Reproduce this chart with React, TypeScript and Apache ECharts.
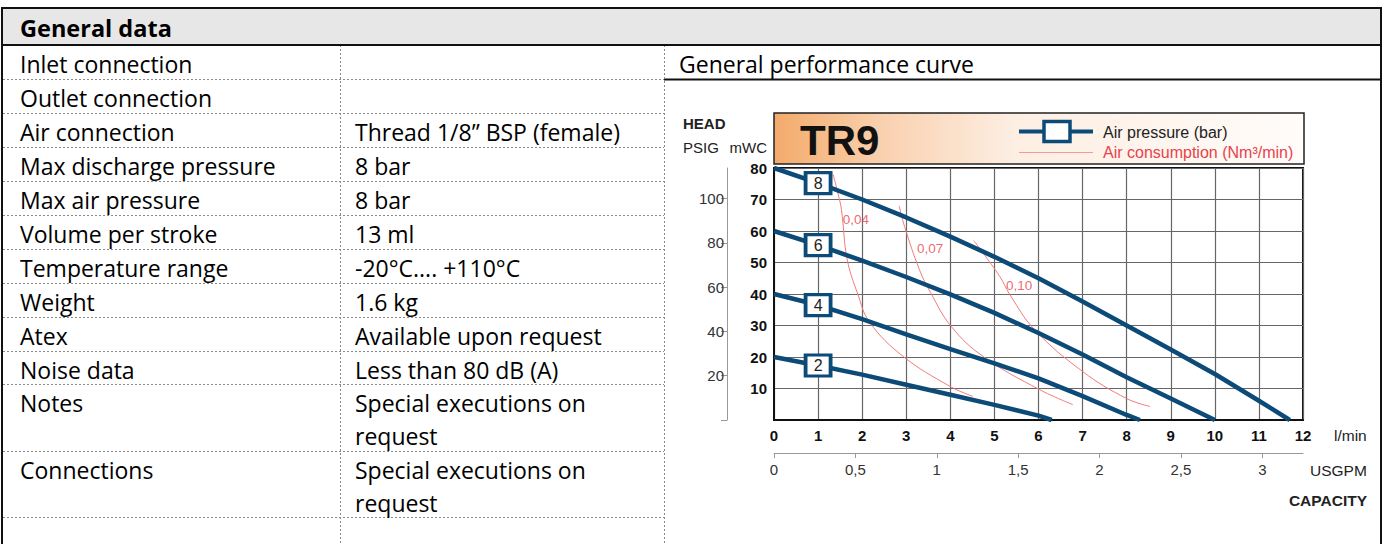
import { useEffect, useRef } from "react";
import * as echarts from "echarts";

// ---------- data ----------
const airPressureBars = ["8", "6", "4", "2"];
const curve8bar = [[0, 80], [1, 75.2], [2, 70], [3, 64.3], [4, 58.2], [5, 51.8], [6, 45], [7, 37.6], [8, 30], [9, 22.4], [10, 14.6], [11, 6.1], [11.7, 0]];
const curve6bar = [[0, 60], [1, 55.5], [2, 50.6], [3, 45.4], [4, 39.9], [5, 34], [6, 27.6], [7, 20.8], [8, 13.6], [9, 6.8], [10, 0]];
const curve4bar = [[0, 40], [1, 36.5], [2, 32], [3, 27.2], [4, 22.5], [5, 18], [6, 13.2], [7, 7.6], [8, 1.6], [8.3, 0]];
const curve2bar = [[0, 20], [1, 17.3], [2, 14.4], [3, 11.2], [4, 8], [5, 4.8], [6, 1.4], [6.3, 0]];
const pressureCurves = [curve8bar, curve6bar, curve4bar, curve2bar];

const airConsumptionValues = ["0,04", "0,07", "0,10"];
const consumption004 = [[1.34, 78], [1.45, 72], [1.53, 66.8], [1.66, 51], [1.9, 40], [2.17, 31], [2.93, 20.2], [3.99, 10.7], [4.51, 7.5]];
const consumption007 = [[2.84, 68], [2.96, 61.5], [3.3, 47.7], [3.55, 40.5], [4.02, 29.7], [4.74, 20.2], [6.03, 9.6], [6.78, 4.9]];
const consumption010 = [[4.53, 57], [5.12, 45.6], [5.35, 39.8], [5.91, 28.7], [7.0, 15.4], [8.0, 6.8], [8.53, 4.3]];
const consumptionCurves = [consumption004, consumption007, consumption010];
const consumptionLabelAnchors = [[1.55, 63.6], [3.23, 54.6], [5.25, 42.6]];

const flowMax = 12;
const headMax = 80;
const usgpmAxisMax = 3.25;
const usgpmTicks = [0, 0.5, 1, 1.5, 2, 2.5, 3];
const psiPerMwc = 1.42233;
const psigTicks = [0, 20, 40, 60, 80, 100];
const psigLabels = [20, 40, 60, 80, 100];

const tableTitle = "General data";
const tableLabels = ["Inlet connection", "Outlet connection", "Air connection", "Max discharge pressure", "Max air pressure", "Volume per stroke", "Temperature range", "Weight", "Atex", "Noise data", "Notes", "Connections", ""];
const tableValues = ["", "", "Thread 1/8\u201d BSP (female)", "8 bar", "8 bar", "13 ml", "-20\u00b0C.... +110\u00b0C", "1.6 kg", "Available upon request", "Less than 80 dB (A)", "Special executions on\nrequest", "Special executions on\nrequest", ""];
const chartHeading = "General performance curve";

// ---------- layout / style ----------
const NAVY = "#0c4a78";
const RED_LINE = "#f27b7b";
const RED_TEXT = "#e8424c";
const FONT = '"Liberation Sans", Arial, sans-serif';
const TFONT = '"Open Sans", sans-serif';
const TSIZE = 23;
const rowTops = [45, 79, 113, 147, 181, 215, 249, 283, 317, 351, 384, 451, 517];

function valueAt(curve: number[][], x: number) {
  const p = curve.find((d) => d[0] === x);
  return p ? p[1] : 0;
}

function txt(text: string, x: number, y: number, font: string, fill: string, align = "left", valign = "middle", extra: any = {}) {
  return {
    type: "text",
    silent: true,
    style: { text, x, y, font, fill, textAlign: align, textVerticalAlign: valign, align, verticalAlign: valign, ...extra },
  };
}

function line(x1: number, y1: number, x2: number, y2: number, stroke: string, lineWidth: number, dash?: number[]) {
  return {
    type: "line",
    silent: true,
    shape: { x1, y1, x2, y2 },
    style: { stroke, lineWidth, lineDash: dash },
  };
}

function buildGraphic() {
  const g: any[] = [];
  // table
  g.push({ type: "rect", silent: true, shape: { x: 2, y: 8, width: 1379, height: 37 }, style: { fill: "#e7e7e7" } });
  rowTops.slice(1).forEach((y) => g.push(line(3, y + 0.5, 664, y + 0.5, "#8a8a8a", 1, [2, 2])));
  g.push(line(664, 79.5, 1381, 79.5, "#111", 2));
  g.push(line(340.5, 45, 340.5, 544, "#8a8a8a", 1, [2, 2]));
  g.push(line(664.5, 45, 664.5, 544, "#8a8a8a", 1, [2, 2]));
  g.push(line(2, 45, 1381, 45, "#111", 2));
  g.push({ type: "rect", silent: true, shape: { x: 2, y: 8, width: 1379, height: 560 }, style: { fill: "none", stroke: "#111", lineWidth: 2 } });
  g.push(txt(tableTitle, 20, 28, `bold 23.5px ${TFONT}`, "#000"));
  tableLabels.forEach((t, i) => {
    if (t) g.push(txt(t, 20, rowTops[i] + 2.5, `${TSIZE}px ${TFONT}`, "#000", "left", "top", { lineHeight: 33 }));
  });
  tableValues.forEach((t, i) => {
    if (t) g.push(txt(t, 355, rowTops[i] + 2.5, `${TSIZE}px ${TFONT}`, "#000", "left", "top", { lineHeight: 33 }));
  });
  g.push(txt(chartHeading, 679, 45 + 2.5, `${TSIZE}px ${TFONT}`, "#000", "left", "top", { lineHeight: 33 }));

  // chart title box
  g.push({
    type: "rect",
    silent: true,
    shape: { x: 774, y: 113, width: 530, height: 51 },
    style: {
      fill: {
        type: "linear", x: 0, y: 0, x2: 1, y2: 0,
        colorStops: [
          { offset: 0, color: "#f3aa6a" },
          { offset: 0.2, color: "#f9d0ae" },
          { offset: 0.45, color: "#fdeee2" },
          { offset: 1, color: "#fffcfa" },
        ],
      },
      stroke: "#222",
      lineWidth: 1.5,
    },
  });
  g.push(txt("TR9", 800, 140, `900 42px ${FONT}`, "#111"));
  // legend
  g.push(line(1019, 131.5, 1093, 131.5, NAVY, 4));
  g.push({ type: "rect", silent: true, shape: { x: 1044, y: 121.5, width: 26, height: 20 }, style: { fill: "#fff", stroke: NAVY, lineWidth: 3.5 } });
  g.push(txt("Air pressure (bar)", 1103, 132, `16px ${FONT}`, "#222"));
  g.push(line(1019, 152.5, 1093, 152.5, "#f39a9a", 1));
  g.push(txt("Air consumption (Nm\u00b3/min)", 1103, 152, `16px ${FONT}`, RED_TEXT));

  // axis titles
  g.push(txt("HEAD", 683, 123, `bold 15px ${FONT}`, "#222"));
  g.push(txt("PSIG", 683, 147, `15px ${FONT}`, "#222"));
  g.push(txt("mWC", 767, 147, `15px ${FONT}`, "#222", "right"));
  g.push(txt("l/min", 1334, 435, `15.5px ${FONT}`, "#222"));
  g.push(txt("USGPM", 1310, 470, `15.5px ${FONT}`, "#222"));
  g.push(txt("CAPACITY", 1367, 500, `bold 15.5px ${FONT}`, "#222", "right"));
  return g;
}

export default function App() {
  const ref = useRef<HTMLDivElement>(null);
  useEffect(() => {
    document.body.style.margin = "0";
    const chart = echarts.init(ref.current!, undefined, { renderer: "svg" });
    const series: any[] = [];
    pressureCurves.forEach((c, i) => {
      series.push({
        name: `Air pressure ${airPressureBars[i]} bar`,
        type: "line",
        data: c,
        showSymbol: false,
        smooth: false,
        lineStyle: { color: NAVY, width: 4.5, join: "round" },
        z: 3,
      });
    });
    consumptionCurves.forEach((c, i) => {
      series.push({
        name: `Air consumption ${airConsumptionValues[i]}`,
        type: "line",
        data: c,
        showSymbol: false,
        smooth: 0.4,
        lineStyle: { color: RED_LINE, width: 1 },
        z: 2,
      });
    });
    series.push({
      name: "consumption labels",
      type: "scatter",
      data: consumptionLabelAnchors.map((a, i) => ({ value: a, name: airConsumptionValues[i] })),
      symbolSize: 1,
      itemStyle: { color: "rgba(0,0,0,0)" },
      label: { show: true, position: "right", distance: 0, formatter: "{b}", color: RED_TEXT, fontSize: 13.5, fontFamily: FONT },
      z: 4,
    });
    series.push({
      name: "pressure boxes",
      type: "scatter",
      data: pressureCurves.map((c, i) => ({ value: [1, valueAt(c, 1)], name: airPressureBars[i] })),
      symbol: "rect",
      symbolSize: [25, 21],
      itemStyle: { color: "#fff", borderColor: NAVY, borderWidth: 3.5, opacity: 1 },
      label: { show: true, position: "inside", formatter: "{b}", color: "#222", fontSize: 16, fontFamily: FONT },
      z: 5,
    });

    chart.setOption({
      animation: false,
      backgroundColor: "#fff",
      grid: { left: 774, top: 168, width: 529, height: 252, show: true, borderColor: "#111", borderWidth: 2, backgroundColor: "transparent" },
      xAxis: [
        {
          type: "value", min: 0, max: flowMax, interval: 1, position: "bottom",
          axisLine: { show: true, onZero: false, lineStyle: { color: "#111", width: 2 } },
          axisTick: { show: false },
          axisLabel: { color: "#111", fontWeight: "bold", fontSize: 15, fontFamily: FONT, margin: 8 },
          splitLine: { show: true, lineStyle: { color: "#666", width: 1.2 } },
        },
        {
          type: "value", min: 0, max: usgpmAxisMax, interval: 0.5, position: "bottom", offset: 33,
          axisLine: { show: true, onZero: false, lineStyle: { color: "#999", width: 1 } },
          axisTick: { show: true, length: 5, lineStyle: { color: "#999" }, customValues: usgpmTicks },
          axisLabel: { customValues: usgpmTicks, color: "#333", fontSize: 15, fontFamily: FONT, margin: 9, formatter: (v: number) => String(v).replace(".", ",") },
          splitLine: { show: false },
        },
      ],
      yAxis: [
        {
          type: "value", min: 0, max: headMax, interval: 10, position: "left",
          axisLine: { show: true, onZero: false, lineStyle: { color: "#111", width: 2 } },
          axisTick: { show: false },
          axisLabel: { color: "#111", fontWeight: "bold", fontSize: 15, fontFamily: FONT, margin: 7, formatter: (v: number) => (v === 0 ? "" : String(v)) },
          splitLine: { show: true, lineStyle: { color: "#666", width: 1.2 } },
        },
        {
          type: "value", min: 0, max: headMax * psiPerMwc, position: "left", offset: 47,
          axisLine: { show: true, onZero: false, lineStyle: { color: "#999", width: 1 } },
          axisTick: { show: true, length: 6, lineStyle: { color: "#999" }, customValues: psigTicks },
          axisLabel: { customValues: psigLabels, color: "#333", fontSize: 15, fontFamily: FONT, margin: 3 },
          splitLine: { show: false },
        },
      ],
      graphic: buildGraphic(),
      series,
    });
    return () => chart.dispose();
  }, []);
  return <div ref={ref} style={{ width: 1390, height: 544, position: "absolute", left: 0, top: 0 }} />;
}
